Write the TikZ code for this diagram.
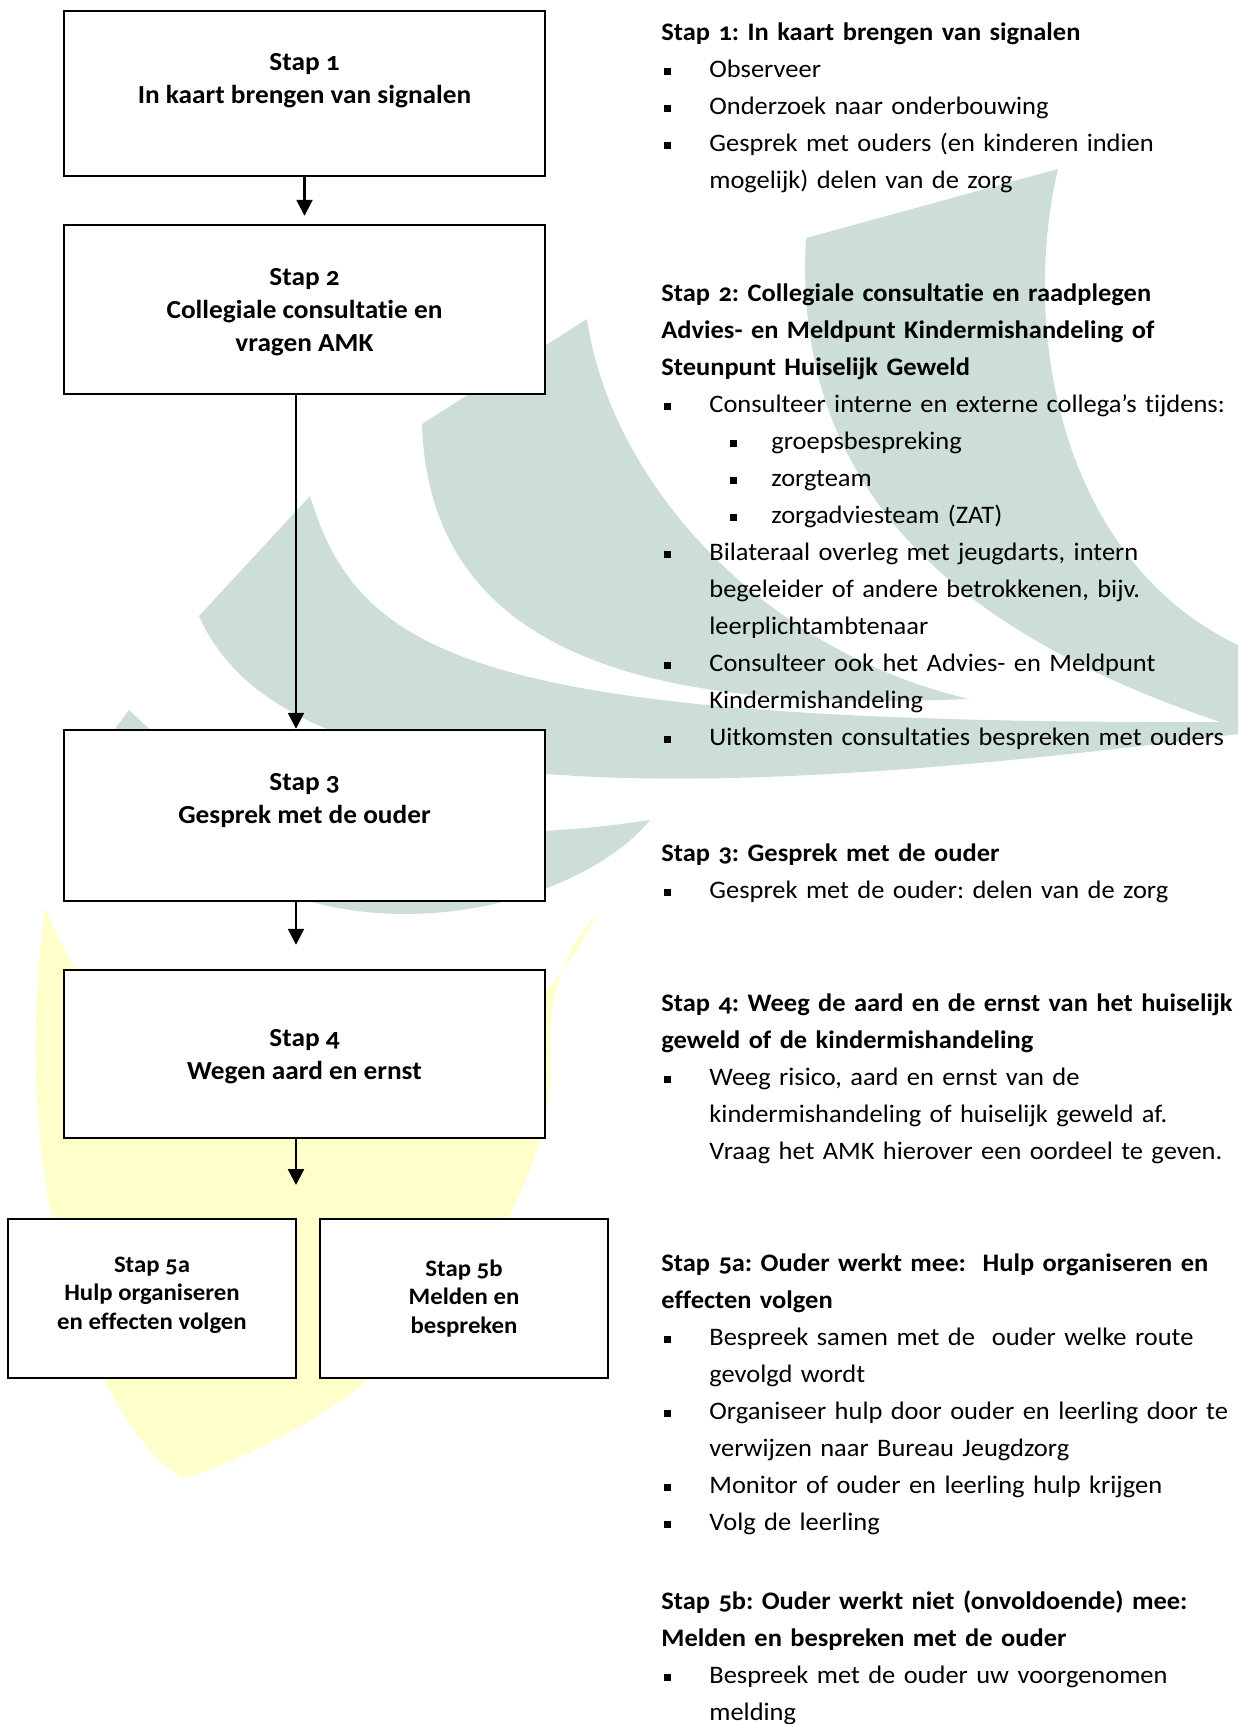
\documentclass[tikz,border=0pt]{standalone}
\usepackage{fontspec}
\setmainfont{Carlito}[Numbers=OldStyle, Ligatures=NoCommon, FakeStretch=1.05]
\usetikzlibrary{shapes, arrows.meta, calc}
\frenchspacing

\definecolor{zeilgroen}{RGB}{205,222,217}
\definecolor{zeilgeel}{RGB}{255,255,204}

\newcommand{\blokje}{\rule[1.4pt]{3.5pt}{3.5pt}}
\newcommand{\kop}[1]{\noindent\strut\textbf{#1}}
\newcommand{\punt}{\par\hangindent=24pt\hangafter=1\noindent\hspace*{1.5pt}\makebox[22.5pt][l]{\blokje}}
\newcommand{\subpunt}{\par\hangindent=55pt\hangafter=1\noindent\hspace*{34.5pt}\makebox[20.5pt][l]{\blokje}}

\tikzset{
  stapbox/.style={draw, line width=1.2pt, fill=white, inner sep=0pt, align=center,
    minimum width=240.5pt, font=\bfseries\fontsize{13}{16.5}\selectfont},
  stapklein/.style={stapbox, minimum width=144pt, minimum height=79.5pt,
    font=\bfseries\fontsize{11.8}{14.25}\selectfont},
  tekstblok/.style={anchor=north west, inner sep=0pt, text width=300pt, align=left,
    font=\fontsize{12.6}{18.5}\selectfont},
  pijl/.style={line width=1.2pt, -{Triangle[width=8pt,length=8pt]}},
}

\begin{document}
\begin{tikzpicture}[x=0.5pt,y=0.5pt,yscale=-1]
\useasboundingbox (0,0) rectangle (1238,1724);
\clip (0,0) rectangle (1238,1724);

%Shape: yellow sail (bottom left)
\fill[zeilgeel] (45,907) .. controls (0,1250) and (130,1460) .. (185,1478) .. controls (420,1400) and (560,1200) .. (550,1050) .. controls (548,990) and (570,940) .. (598,913) .. controls (480,1150) and (150,1180) .. (45,907) -- cycle;

%Shape: teal sail right
\fill[zeilgroen] (806,238) -- (1058,169) .. controls (1020,330) and (1060,560) .. (1238,645) -- (1238,728) .. controls (1000,650) and (790,520) .. (806,238) -- cycle;
%Shape: teal sail middle
\fill[zeilgroen] (422,424) -- (587,319) .. controls (610,480) and (760,650) .. (969,699) .. controls (700,710) and (430,680) .. (422,424) -- cycle;
%Shape: teal sail lower
\fill[zeilgroen] (199,616) -- (310,496) .. controls (360,660) and (480,725) .. (1238,722) -- (1238,734) .. controls (650,810) and (280,800) .. (199,616) -- cycle;
%Shape: teal sail behind stap 3
\fill[zeilgroen] (114,730) -- (129,710) .. controls (250,830) and (450,850) .. (650,820) .. controls (560,930) and (230,990) .. (114,730) -- cycle;

% Boxes
\node[stapbox, minimum height=82.5pt] (stap1) at (304.5,93.5) {Stap 1\\In kaart brengen van signalen\\[-6pt]\strut};
\node[stapbox, minimum height=84.5pt] (stap2) at (304.5,309.5) {\strut Stap 2\\Collegiale consultatie en\\vragen AMK};
\node[stapbox, minimum height=85.5pt] (stap3) at (304.5,815.5) {Stap 3\\Gesprek met de ouder\\[-4.4pt]\strut};
\node[stapbox, minimum height=84pt] (stap4) at (304.5,1054) {\strut Stap 4\\Wegen aard en ernst};
\node[stapklein] (stap5a) at (152,1298.5) {Stap 5a\\Hulp organiseren\\en effecten volgen\\[-12.85pt]\strut};
\node[stapklein] (stap5b) at (464,1298.5) {Stap 5b\\Melden en\\bespreken};

% Arrows
\coordinate (splitsing) at (296,1185);
\draw[pijl, shorten >=4pt] (stap1.south) -- (stap2.north);
\draw[pijl] ([xshift=-4.25pt]stap2.south) -- ([xshift=-4.25pt]stap3.north);
\draw[pijl, shorten >=12pt] ([xshift=-4.25pt]stap3.south) -- ([xshift=-4.25pt]stap4.north);
\draw[pijl] ([xshift=-4.25pt]stap4.south) -- (splitsing);

% Text Node
\node[tekstblok] (blok1) at (661,14) {\kop{Stap 1: In kaart brengen van signalen}
  \punt Observeer
  \punt Onderzoek naar onderbouwing
  \punt Gesprek met ouders (en kinderen indien\newline mogelijk) delen van de zorg\par};

% Text Node
\node[tekstblok] (blok2) at (661,275) {\kop{Stap 2: Collegiale consultatie en raadplegen}\newline
  \textbf{Advies- en Meldpunt Kindermishandeling of}\newline
  \textbf{Steunpunt Huiselijk Geweld}
  \punt Consulteer interne en externe collega’s tijdens:
  \subpunt groepsbespreking
  \subpunt zorgteam
  \subpunt zorgadviesteam (ZAT)
  \punt Bilateraal overleg met jeugdarts, intern\newline begeleider of andere betrokkenen, bijv.\newline leerplichtambtenaar
  \punt Consulteer ook het Advies- en Meldpunt\newline Kindermishandeling
  \punt Uitkomsten consultaties bespreken met ouders\par};

% Text Node
\node[tekstblok] (blok3) at (661,835) {\kop{Stap 3: Gesprek met de ouder}
  \punt Gesprek met de ouder: delen van de zorg\par};

% Text Node
\node[tekstblok] (blok4) at (661,985) {\kop{Stap 4: Weeg de aard en de ernst van het huiselijk}\newline
  \textbf{geweld of de kindermishandeling}
  \punt Weeg risico, aard en ernst van de\newline kindermishandeling of huiselijk geweld af.\newline Vraag het AMK hierover een oordeel te geven.\par};

% Text Node
\node[tekstblok] (blok5a) at (661,1245) {\kop{Stap 5a: Ouder werkt mee:\ \ Hulp organiseren en}\newline
  \textbf{effecten volgen}
  \punt Bespreek samen met de\ \ ouder welke route\newline gevolgd wordt
  \punt Organiseer hulp door ouder en leerling door te\newline verwijzen naar Bureau Jeugdzorg
  \punt Monitor of ouder en leerling hulp krijgen
  \punt Volg de leerling\par};

% Text Node
\node[tekstblok] (blok5b) at (661,1583) {\kop{Stap 5b: Ouder werkt niet (onvoldoende) mee:}\newline
  \textbf{Melden en bespreken met de ouder}
  \punt Bespreek met de ouder uw voorgenomen\newline melding\par};

\end{tikzpicture}
\end{document}
